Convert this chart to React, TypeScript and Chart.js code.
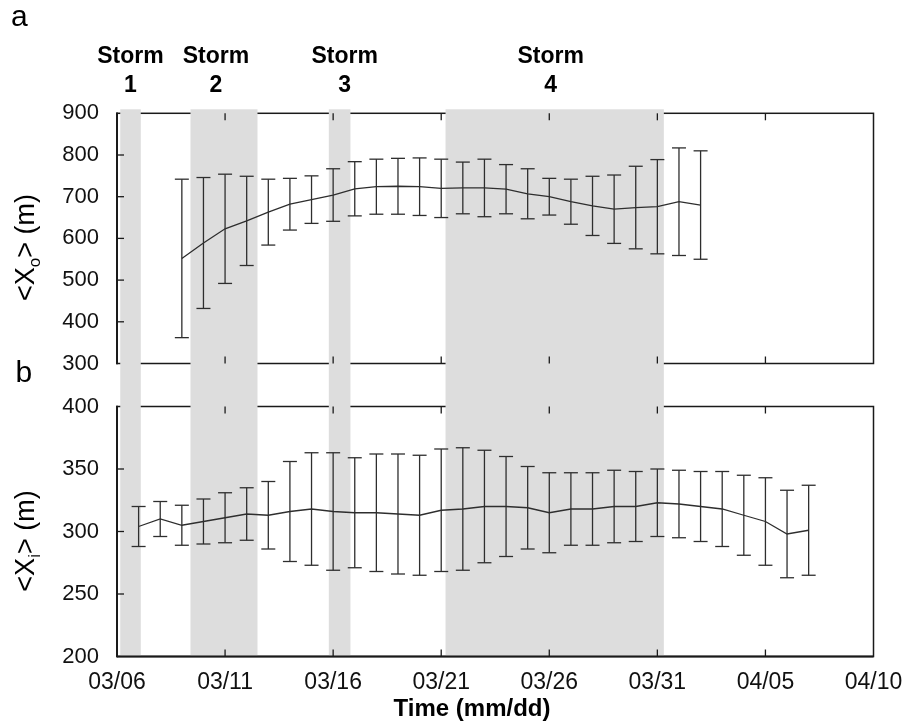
import React, { useEffect, useRef } from 'react';
import { Chart, registerables } from 'chart.js';

Chart.register(...registerables);

// ---------- data ----------
const xTickLabels = ['03/06', '03/11', '03/16', '03/21', '03/26', '03/31', '04/05', '04/10'];

const topDates = [
  '03/09', '03/10', '03/11', '03/12', '03/13', '03/14', '03/15', '03/16', '03/17', '03/18',
  '03/19', '03/20', '03/21', '03/22', '03/23', '03/24', '03/25', '03/26', '03/27', '03/28',
  '03/29', '03/30', '03/31', '04/01', '04/02',
];
const topMean = [552, 589, 623, 642, 663, 682, 693, 704, 719, 724, 725, 724, 720, 721, 721, 718, 707, 700, 688, 678, 670, 674, 676, 688, 680];
const topErr = [190, 157, 131, 107, 79, 62, 57, 63, 65, 66, 67, 69, 70, 62, 69, 59, 60, 44, 54, 71, 82, 99, 113, 129, 130];

const bottomDates = [
  '03/07', '03/08', '03/09', '03/10', '03/11', '03/12', '03/13', '03/14', '03/15', '03/16',
  '03/17', '03/18', '03/19', '03/20', '03/21', '03/22', '03/23', '03/24', '03/25', '03/26',
  '03/27', '03/28', '03/29', '03/30', '03/31', '04/01', '04/02', '04/03', '04/04', '04/05',
  '04/06', '04/07',
];
const bottomMean = [304, 310, 305, 308, 311, 314, 313, 316, 318, 316, 315, 315, 314, 313, 317, 318, 320, 320, 319, 315, 318, 318, 320, 320, 323, 322, 320, 318, 313, 308, 298, 301];
const bottomErr = [16, 14, 16, 18, 20, 21, 27, 40, 45, 47, 44, 47, 48, 48, 49, 49, 45, 40, 33, 32, 29, 29, 29, 28, 27, 27, 28, 30, 32, 35, 35, 36];

// storms, in days since 03/06
const stormNames = ['1', '2', '3', '4'];
const stormStartDay = [0.15, 3.4, 9.8, 15.2];
const stormEndDay = [1.1, 6.5, 10.8, 25.3];

// ---------- styles ----------
const FONT = '"Liberation Sans", Arial, Helvetica, sans-serif';
const AXIS = '#1a1a1a';
const SERIES = '#2e2e2e';
const SHADE = '#dddddd';
const stormLabelShift = [0, -8, 5, -4];

function dayOf(d: string): number {
  const [m, dd] = d.split('/').map(Number);
  return m === 3 ? dd - 6 : 25 + dd;
}

function line(ctx: CanvasRenderingContext2D, x1: number, y1: number, x2: number, y2: number) {
  ctx.beginPath();
  ctx.moveTo(x1, y1);
  ctx.lineTo(x2, y2);
  ctx.stroke();
}

function drawYTitle(ctx: CanvasRenderingContext2D, xBase: number, yCenter: number, sub: string) {
  const big = `27px ${FONT}`;
  const small = `17px ${FONT}`;
  const parts = [
    { t: '<X', f: big, dy: 0 },
    { t: sub, f: small, dy: 6.5 },
    { t: '> (m)', f: big, dy: 0 },
  ];
  ctx.save();
  let total = 0;
  const widths = parts.map((p) => {
    ctx.font = p.f;
    const w = ctx.measureText(p.t).width;
    total += w;
    return w;
  });
  ctx.translate(xBase, yCenter);
  ctx.rotate(-Math.PI / 2);
  ctx.fillStyle = '#000';
  ctx.textBaseline = 'alphabetic';
  ctx.textAlign = 'left';
  let cx = -total / 2;
  parts.forEach((p, i) => {
    ctx.font = p.f;
    ctx.fillText(p.t, cx, p.dy);
    cx += widths[i];
  });
  ctx.restore();
}

type PanelCfg = {
  id: string;
  xs: number[];
  means: number[];
  errs: number[];
  shadeFromCanvasTop: boolean;
  shadeToCanvasBottom: boolean;
  extra: (chart: any) => void;
};

function makePanelPlugin(cfg: PanelCfg) {
  return {
    id: cfg.id,
    beforeDatasetsDraw(chart: any) {
      const { ctx, chartArea: a } = chart;
      const x = chart.scales.x;
      const y = chart.scales.y;
      ctx.save();
      ctx.strokeStyle = AXIS;
      ctx.lineWidth = 1.5;
      ctx.strokeRect(a.left, a.top, a.right - a.left, a.bottom - a.top);
      ctx.lineWidth = 2;
      line(ctx, a.left, a.top - 0.75, a.left, a.bottom + 0.75);
      // storm shading
      const top = cfg.shadeFromCanvasTop ? 0 : a.top - 4;
      const bot = cfg.shadeToCanvasBottom ? chart.height : a.bottom - 1;
      ctx.fillStyle = SHADE;
      stormStartDay.forEach((s, i) => {
        const x1 = x.getPixelForValue(s);
        const x2 = x.getPixelForValue(stormEndDay[i]);
        ctx.fillRect(x1, top, x2 - x1, bot - top);
      });
      if (!cfg.shadeToCanvasBottom) {
        ctx.strokeStyle = AXIS;
        ctx.lineWidth = 2;
        line(ctx, a.left, a.bottom, a.right, a.bottom);
      }
      // inward ticks
      ctx.strokeStyle = AXIS;
      ctx.lineWidth = 1.3;
      x.ticks.forEach((t: any) => {
        const px = x.getPixelForValue(t.value);
        if (px <= a.left + 1 || px >= a.right - 1) return;
        line(ctx, px, a.top, px, a.top + 7);
        line(ctx, px, a.bottom, px, a.bottom - 7);
      });
      y.ticks.forEach((t: any) => {
        const py = y.getPixelForValue(t.value);
        if (py <= a.top + 1 || py >= a.bottom - 1) return;
        line(ctx, a.left, py, a.left + 7, py);
      });
      ctx.restore();
    },
    afterDatasetsDraw(chart: any) {
      const { ctx } = chart;
      const x = chart.scales.x;
      const y = chart.scales.y;
      ctx.save();
      ctx.strokeStyle = SERIES;
      ctx.lineWidth = 1.3;
      cfg.xs.forEach((d, i) => {
        const px = x.getPixelForValue(d);
        const hi = y.getPixelForValue(cfg.means[i] + cfg.errs[i]);
        const lo = y.getPixelForValue(cfg.means[i] - cfg.errs[i]);
        line(ctx, px, hi, px, lo);
        line(ctx, px - 7, hi, px + 7, hi);
        line(ctx, px - 7, lo, px + 7, lo);
      });
      ctx.restore();
    },
    afterDraw(chart: any) {
      cfg.extra(chart);
    },
  };
}

function baseOptions(yMin: number, yMax: number, yStep: number, padTop: number, xHeight: number, showX: boolean) {
  return {
    animation: false as const,
    responsive: false,
    maintainAspectRatio: false,
    layout: { padding: { left: 0, right: 32.5, top: padTop, bottom: 0 } },
    plugins: { legend: { display: false }, tooltip: { enabled: false }, title: { display: false } },
    scales: {
      x: {
        type: 'linear' as const,
        min: 0,
        max: 35,
        ticks: {
          display: showX,
          stepSize: 5,
          padding: 12,
          color: '#111',
          font: { family: FONT, size: 23 },
          maxRotation: 0,
          autoSkip: false,
          callback: (v: any) => xTickLabels[Math.round(Number(v) / 5)] ?? '',
        },
        grid: { display: false, drawTicks: false },
        border: { display: false },
        afterFit: (s: any) => {
          s.height = xHeight;
          s.paddingLeft = 0;
          s.paddingRight = 0;
        },
      },
      y: {
        min: yMin,
        max: yMax,
        ticks: {
          stepSize: yStep,
          padding: 18,
          color: '#111',
          font: { family: FONT, size: 22 },
        },
        grid: { display: false, drawTicks: false },
        border: { display: false },
        afterFit: (s: any) => {
          s.width = 117;
          s.paddingTop = 0;
          s.paddingBottom = 0;
        },
      },
    },
  };
}

export default function App() {
  const refA = useRef<HTMLCanvasElement>(null);
  const refB = useRef<HTMLCanvasElement>(null);

  useEffect(() => {
    const topX = topDates.map(dayOf);
    const botX = bottomDates.map(dayOf);

    const pluginA = makePanelPlugin({
      id: 'panelA',
      xs: topX,
      means: topMean,
      errs: topErr,
      shadeFromCanvasTop: false,
      shadeToCanvasBottom: true,
      extra: (chart: any) => {
        const { ctx } = chart;
        const x = chart.scales.x;
        ctx.save();
        ctx.fillStyle = '#000';
        ctx.font = `30px ${FONT}`;
        ctx.textAlign = 'left';
        ctx.textBaseline = 'alphabetic';
        ctx.fillText('a', 11, 26);
        ctx.fillText('b', 15.5, 381.5);
        ctx.font = `bold 23px ${FONT}`;
        ctx.textAlign = 'center';
        stormNames.forEach((n, i) => {
          const cx = (x.getPixelForValue(stormStartDay[i]) + x.getPixelForValue(stormEndDay[i])) / 2 + stormLabelShift[i];
          ctx.fillText('Storm', cx, 63);
          ctx.fillText(n, cx, 92);
        });
        ctx.restore();
        drawYTitle(ctx, 33.5, 247.5, 'o');
      },
    });

    const pluginB = makePanelPlugin({
      id: 'panelB',
      xs: botX,
      means: bottomMean,
      errs: bottomErr,
      shadeFromCanvasTop: true,
      shadeToCanvasBottom: false,
      extra: (chart: any) => {
        const { ctx } = chart;
        ctx.save();
        ctx.fillStyle = '#000';
        ctx.font = `bold 24px ${FONT}`;
        ctx.textAlign = 'center';
        ctx.textBaseline = 'middle';
        ctx.fillText('Time (mm/dd)', 472, 709 - 385);
        ctx.restore();
        drawYTitle(ctx, 33.5, 541 - 385, 'i');
      },
    });

    const chartA = new Chart(refA.current!, {
      type: 'line',
      data: {
        datasets: [
          {
            data: topX.map((d, i) => ({ x: d, y: topMean[i] })),
            borderColor: SERIES,
            borderWidth: 1.3,
            pointRadius: 0,
            tension: 0,
            fill: false,
          },
        ],
      },
      options: baseOptions(300, 900, 100, 113.3, 385 - 363.5, false) as any,
      plugins: [pluginA],
    });

    const chartB = new Chart(refB.current!, {
      type: 'line',
      data: {
        datasets: [
          {
            data: botX.map((d, i) => ({ x: d, y: bottomMean[i] })),
            borderColor: SERIES,
            borderWidth: 1.3,
            pointRadius: 0,
            tension: 0,
            fill: false,
          },
        ],
      },
      options: baseOptions(200, 400, 50, 21.5, 71.5, true) as any,
      plugins: [pluginB],
    });

    return () => {
      chartA.destroy();
      chartB.destroy();
    };
  }, []);

  return (
    <div style={{ position: 'absolute', left: 0, top: 0, width: 906, height: 728, background: '#fff', overflow: 'hidden' }}>
      <canvas ref={refA} width={906} height={385} style={{ position: 'absolute', left: 0, top: 0, width: 906, height: 385 }} />
      <canvas ref={refB} width={906} height={343} style={{ position: 'absolute', left: 0, top: 385, width: 906, height: 343 }} />
    </div>
  );
}
